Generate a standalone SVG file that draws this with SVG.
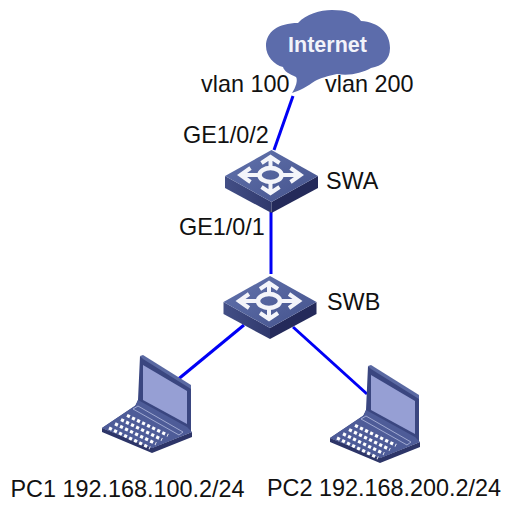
<svg xmlns="http://www.w3.org/2000/svg" width="528" height="520" viewBox="0 0 528 520">
<style>
text{font-family:"Liberation Sans",Arial,sans-serif;font-size:23.4px;fill:#111}
.link{stroke:#0000f5;stroke-width:3;fill:none}
.row{stroke:#fff;stroke-width:3.200;stroke-dasharray:3.200 2.400;fill:none}
</style>
<defs>
<linearGradient id="top" x1="0" y1="0" x2="1" y2="1"><stop offset="0" stop-color="#6273ad"/><stop offset="1" stop-color="#44528c"/></linearGradient>
<linearGradient id="sideL" x1="0" y1="0" x2="1" y2="0"><stop offset="0" stop-color="#434f86"/><stop offset="1" stop-color="#30396d"/></linearGradient>
<g id="sw">
<path d="M-46.500 26L0 52V63L-46.500 38Z" fill="url(#sideL)"/>
<path d="M46.500 26L0 52V63L46.500 38Z" fill="#242a5a"/>
<path d="M0 0L46.500 26L0 52L-46.500 26Z" fill="url(#top)"/>
<g fill="none" stroke="#f4f5fa" stroke-width="4">
<ellipse cx="-1" cy="25" rx="11" ry="7" stroke-width="4.500"/>
<path d="M-1 18V7M-10 13L-1 7L8 13M-1 32V43M-10 37L-1 43L8 37M-12 25H-31M-21 18L-31 25L-21 32M10 25H29M19 18L29 25L19 32"/>
</g>
</g>
<g id="laptop">
<path d="M38 0L89 31V76L50 92L0 72L33 50L36 44Z" fill="#3a4680"/>
<path d="M38 0L41 -1L89 29V33L41 3Z" fill="#5a69a2"/>
<path d="M41 9L85 35V68L41 44Z" fill="#969fd4"/>
<path d="M0 72L50 92L90 76V81L50 97L0 76Z" fill="#2d3568"/>
<path d="M34 49L0 72L50 92L90 76L85 71L36 44Z" fill="#4e5c98"/>
<path d="M31 53L36 50L81 76L77 79Z" fill="none" stroke="#b5bce0" stroke-width="0.800"/>
<path class="row" d="M7 72L48 92"/>
<path class="row" d="M13 67.800L54 87.800"/>
<path class="row" d="M19 63.600L60 83.600"/>
<path class="row" d="M25 59.400L66 79.400"/>
</g>
</defs>
<g id="connectors">
<path class="link" d="M293 96L274 150"/>
<path class="link" d="M271 212V274"/>
<path class="link" d="M244 325L176 381"/>
<path class="link" d="M293 327L367 394"/>
</g>
<g id="internet">
<path d="M292 93C296 87 298 80 296 77C289 74 284 71 283 67C274 65 266 56 266 46C266 32 278 23 298 23C306 14 320 10 332 10C346 10 356 13 361 21C378 22 390 32 390 48C390 60 382 66 371 68C362 73 350 76 337 74C328 76 320 78 315 81C308 86 299 91 292 93Z" fill="#5c6cab"/>
<text x="327.500" y="52" text-anchor="middle" style="fill:#f2f3fa;font-weight:bold;font-size:21.5px">Internet</text>
</g>
<g id="SWA"><use href="#sw" x="271.500" y="150"/><text x="326" y="189">SWA</text></g>
<g id="SWB"><use href="#sw" x="270" y="276"/><text x="327" y="310">SWB</text></g>
<g id="PC1"><use href="#laptop" x="102" y="356"/><text x="10.500" y="497">PC1 192.168.100.2/24</text></g>
<g id="PC2"><use href="#laptop" x="330" y="366"/><text x="267" y="496">PC2 192.168.200.2/24</text></g>
<text x="201" y="92">vlan 100</text>
<text x="325" y="92">vlan 200</text>
<text x="183" y="143">GE1/0/2</text>
<text x="179" y="235">GE1/0/1</text>
</svg>
